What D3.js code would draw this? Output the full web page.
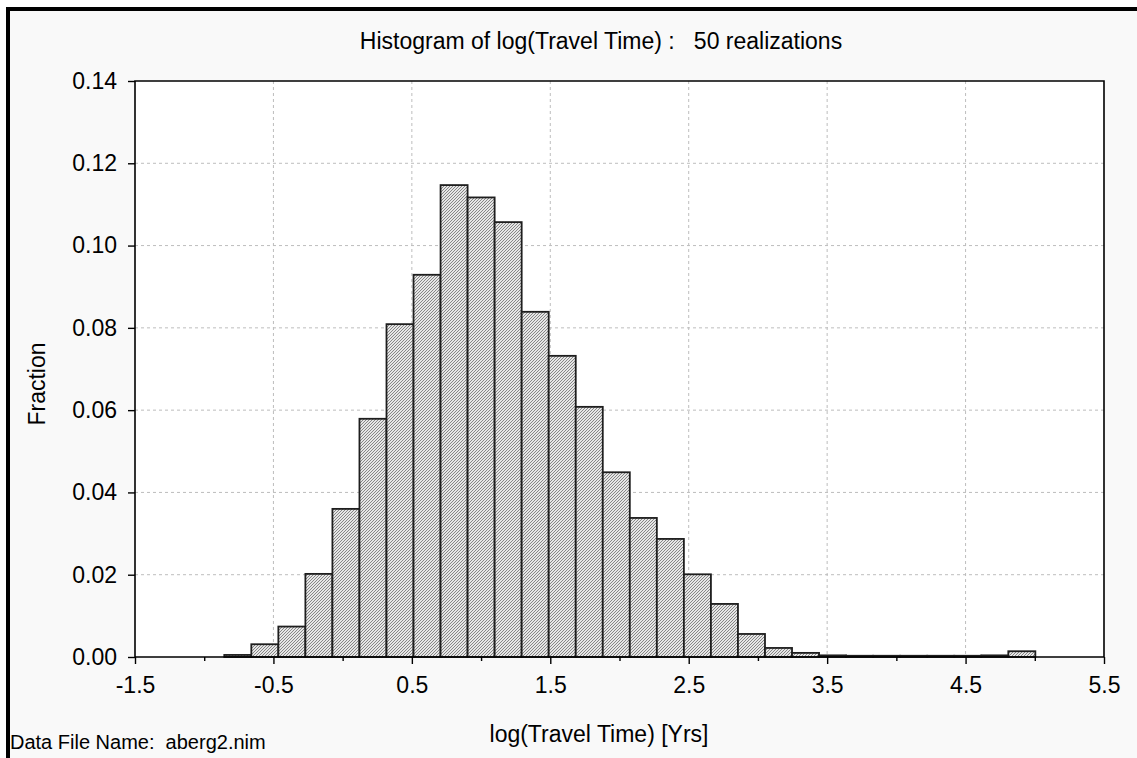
<!DOCTYPE html>
<html lang="en">
<head>
    <meta charset="UTF-8">
    <title>Histogram of log(Travel Time)</title>
    <style>
        html, body { margin: 0; padding: 0; background: #fff; }
        svg text { font-family: "Liberation Sans", Arial, sans-serif; fill: #000; }
    </style>
</head>
<body>
    <div id="chart"></div>

    <script src="https://d3js.org/d3.v7.min.js"></script>
    <script>
        // bin edges (log travel time) and fraction in each bin
        const binEdges = [-0.855, -0.6597, -0.4644, -0.2691, -0.0738, 0.1215, 0.3168, 0.5121,
            0.7074, 0.9027, 1.098, 1.2933, 1.4886, 1.6839, 1.8792, 2.0745, 2.2698, 2.4651,
            2.6604, 2.8557, 3.051, 3.2463, 3.4416, 3.6369, 3.8322, 4.0275, 4.2228, 4.4181,
            4.6134, 4.8087, 5.004];
        const fractions = [0.0005, 0.0031, 0.0074, 0.0202, 0.0360, 0.0579, 0.0809, 0.0929,
            0.1147, 0.1117, 0.1057, 0.0839, 0.0732, 0.0608, 0.0449, 0.0338, 0.0287, 0.0201,
            0.0129, 0.0056, 0.0022, 0.0010, 0.0004, 0.0003, 0.0003, 0.0003, 0.0003, 0.0003,
            0.0004, 0.0014];
        const xMajorTicks = [-1.5, -0.5, 0.5, 1.5, 2.5, 3.5, 4.5, 5.5];
        const xMinorTicks = [-1, 0, 1, 2, 3, 4, 5];
        const yTicks = [0, 0.02, 0.04, 0.06, 0.08, 0.10, 0.12, 0.14];

        const width = 1137;
        const height = 758;
        const plotL = 135, plotR = 1104, plotT = 81, plotB = 657;

        const svg = d3.select("#chart").append("svg")
            .attr("width", width)
            .attr("height", height);

        // hatch pattern for the bars
        const pat = svg.append("defs").append("pattern")
            .attr("id", "hatch")
            .attr("patternUnits", "userSpaceOnUse")
            .attr("width", 3)
            .attr("height", 3);
        pat.append("rect").attr("width", 3).attr("height", 3).attr("fill", "#e6e6e6");
        pat.append("path")
            .attr("d", "M0,3 L3,0 M-1,1 L1,-1 M2,4 L4,2")
            .attr("stroke", "#7c7c7c")
            .attr("stroke-width", 0.9);

        // page background and the heavy frame on top/left
        svg.append("rect").attr("x", 6).attr("y", 7).attr("width", width).attr("height", height)
            .attr("fill", "#f9f9f9");
        svg.append("line").attr("x1", 6).attr("x2", width).attr("y1", 9).attr("y2", 9)
            .attr("stroke", "#000").attr("stroke-width", 4);
        svg.append("line").attr("x1", 8).attr("x2", 8).attr("y1", 7).attr("y2", height)
            .attr("stroke", "#000").attr("stroke-width", 4);

        const x = d3.scaleLinear().domain([-1.5, 5.5]).range([plotL, plotR]);
        const y = d3.scaleLinear().domain([0, 0.14]).range([plotB, plotT]);

        // plot area
        svg.append("rect")
            .attr("x", plotL).attr("y", plotT)
            .attr("width", plotR - plotL).attr("height", plotB - plotT)
            .attr("fill", "#fff");

        // grid
        const grid = svg.append("g")
            .attr("stroke", "#bdbdbd")
            .attr("stroke-dasharray", "3,3")
            .attr("stroke-width", 1);
        grid.selectAll(".gx")
            .data(xMajorTicks.slice(1, -1))
            .enter().append("line")
            .attr("x1", d => x(d)).attr("x2", d => x(d))
            .attr("y1", plotT).attr("y2", plotB);
        grid.selectAll(".gy")
            .data(yTicks.slice(1, -1))
            .enter().append("line")
            .attr("x1", plotL).attr("x2", plotR)
            .attr("y1", d => y(d)).attr("y2", d => y(d));

        // bars
        svg.append("g").selectAll("rect")
            .data(fractions)
            .enter().append("rect")
            .attr("x", (d, i) => x(binEdges[i]))
            .attr("width", (d, i) => x(binEdges[i + 1]) - x(binEdges[i]))
            .attr("y", d => y(d))
            .attr("height", d => y(0) - y(d))
            .attr("fill", "url(#hatch)")
            .attr("stroke", "#1e1e1e")
            .attr("stroke-width", 1.8);

        // axes
        const yAxis = svg.append("g")
            .attr("transform", `translate(${plotL},0)`)
            .call(d3.axisLeft(y).tickValues(yTicks).tickFormat(d3.format(".2f"))
                .tickSize(7).tickPadding(11));
        yAxis.select(".domain").remove();
        yAxis.selectAll("text").style("font-size", "23px");
        yAxis.selectAll("line").attr("stroke-width", 1.4);

        const fmtX = d => d3.format(".1f")(d).replace("\u2212", "-");
        const xAxis = svg.append("g")
            .attr("transform", `translate(0,${plotB})`)
            .call(d3.axisBottom(x).tickValues(xMajorTicks).tickFormat(fmtX)
                .tickSize(7).tickPadding(13));
        xAxis.select(".domain").remove();
        xAxis.selectAll("text").style("font-size", "23px");
        xAxis.selectAll("line").attr("stroke-width", 1.4);

        const xMinor = svg.append("g")
            .attr("transform", `translate(0,${plotB})`)
            .call(d3.axisBottom(x).tickValues(xMinorTicks).tickFormat("").tickSize(4));
        xMinor.select(".domain").remove();
        xMinor.selectAll("line").attr("stroke-width", 1.4);

        // plot frame
        svg.append("path")
            .attr("d", `M${plotL},${plotB}V${plotT}H${plotR}V${plotB}Z`)
            .attr("fill", "none")
            .attr("stroke", "#000")
            .attr("stroke-width", 1.6);

        // texts
        svg.append("text")
            .attr("x", 601).attr("y", 49)
            .attr("text-anchor", "middle")
            .style("font-size", "23px")
            .style("white-space", "pre")
            .text("Histogram of log(Travel Time) :   50 realizations");

        svg.append("text")
            .attr("x", 599).attr("y", 742)
            .attr("text-anchor", "middle")
            .style("font-size", "23px")
            .text("log(Travel Time) [Yrs]");

        svg.append("text")
            .attr("transform", "translate(45,384) rotate(-90)")
            .attr("text-anchor", "middle")
            .style("font-size", "23px")
            .text("Fraction");

        svg.append("text")
            .attr("x", 10).attr("y", 749)
            .style("font-size", "20px")
            .style("white-space", "pre")
            .text("Data File Name:  aberg2.nim");
    </script>
</body>
</html>
